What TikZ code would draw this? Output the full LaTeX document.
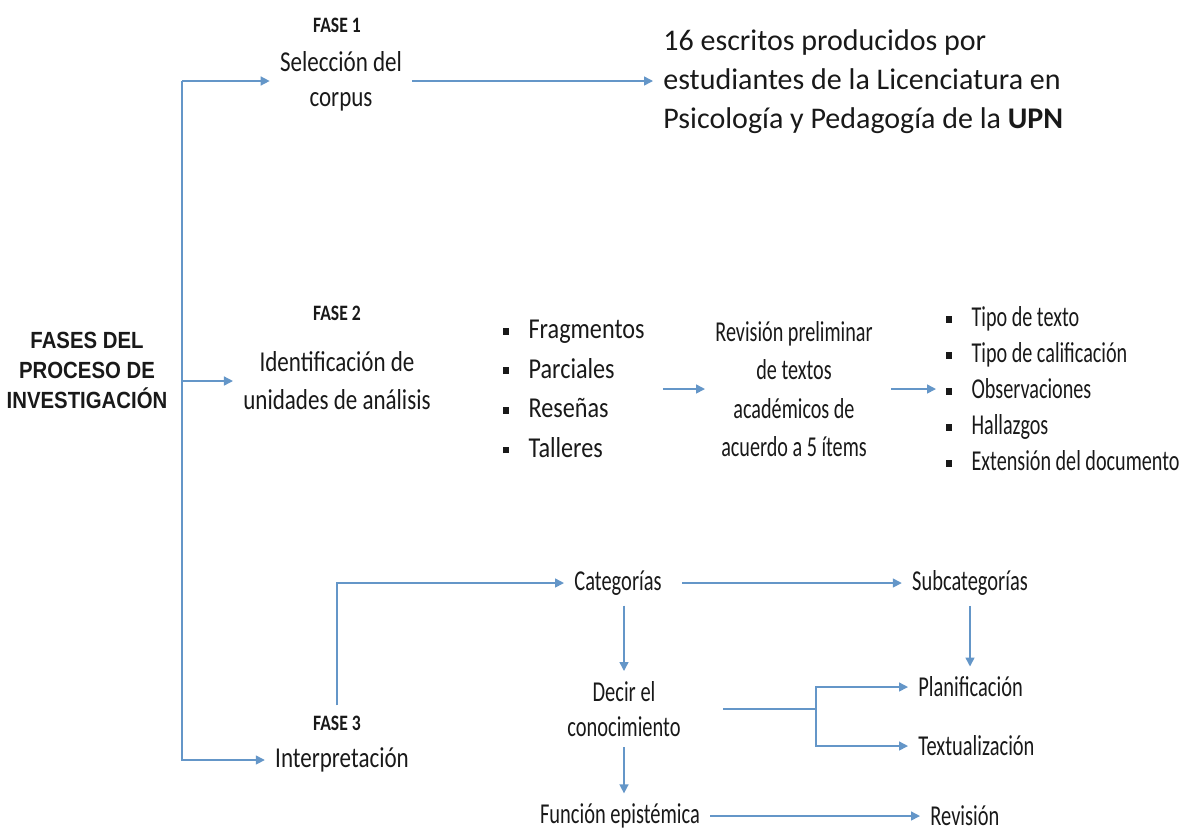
\documentclass[tikz,border=0pt]{standalone}
\usepackage{fontspec}
\setmainfont{Carlito}[FakeStretch=0.8]
\newfontfamily\titlefont{Liberation Sans}[FakeStretch=0.87]
\newfontfamily\widefont{Carlito}
\newfontfamily\midfont{Carlito}[FakeStretch=0.7]
\newfontfamily\listfont{Carlito}[FakeStretch=0.84]
\newfontfamily\lowfont{Carlito}[FakeStretch=0.71]
\usetikzlibrary{arrows.meta}
\definecolor{linkblue}{RGB}{100,150,200}
\definecolor{ink}{RGB}{25,25,25}
\newcommand{\sqi}{\rule[0.3ex]{2.6pt}{3.4pt}\hspace{10pt}}

\tikzset{
  txt/.style ={inner sep=5pt, text=ink, align=center, font=\fontsize{14.4}{17.5}\selectfont},
  low/.style ={txt, font=\fontsize{14.4}{17.5}\selectfont\lowfont},
  fase/.style={inner sep=5pt, text=ink, font=\fontsize{11}{13}\selectfont\bfseries},
  lst/.style ={txt, align=left},
  lnk/.style ={draw=linkblue, line width=0.75pt},
  arr/.style ={lnk, -{Triangle[length=4.5pt,width=4.5pt]}},
}

\begin{document}
\begin{tikzpicture}[x=0.5pt, y=-0.5pt]
  \useasboundingbox (0,0) rectangle (1188,832);
  \node[text=ink, align=center, font=\fontsize{11.7}{15}\selectfont\titlefont\bfseries] (title) at (87,370) {FASES DEL\\PROCESO DE\\INVESTIGACIÓN};
  % fase 1
  \node[fase] (f1) at (337,25) {FASE 1};
  \node[txt] (sel) at (341,81) {Selección del\\corpus};
  \node[lst, anchor=west, font=\fontsize{15}{19.5}\selectfont\widefont] (corpus) at (653,82) {16 escritos producidos por\\estudiantes de la Licenciatura en\\Psicología y Pedagogía de la \textbf{UPN}};
  % fase 2
  \node[fase] (f2) at (337,313) {FASE 2};
  \node[txt, font=\fontsize{14.4}{19}\selectfont] (ident) at (337,381) {Identificación de\\unidades de análisis};
  \node[lst, anchor=west, font=\fontsize{14.4}{19.8}\selectfont\listfont] (tipos) at (493,389) {\sqi Fragmentos\\\sqi Parciales\\\sqi Reseñas\\\sqi Talleres};
  \node[txt, font=\fontsize{14.4}{19.2}\selectfont\midfont] (prelim) at (794,389) {Revisión preliminar\\de textos\\académicos de\\acuerdo a 5 ítems};
  \node[lst, anchor=west, font=\fontsize{14.4}{18}\selectfont\midfont] (items) at (936,389) {\sqi Tipo de texto\\\sqi Tipo de calificación\\\sqi Observaciones\\\sqi Hallazgos\\\sqi Extensión del documento};
  % fase 3
  \node[fase] (f3) at (337,723) {FASE 3};
  \node[txt] (interp) at (342,760) {Interpretación};
  \node[low] (cat) at (618,583) {Categorías};
  \node[low] (sub) at (970,583) {Subcategorías};
  \node[low] (dec) at (624,709) {Decir el\\conocimiento};
  \node[low, anchor=west] (plan) at (908,687) {Planificación};
  \node[low, anchor=west] (textu) at (908,746) {Textualización};
  \node[low] (fun) at (620,816) {Función epistémica};
  \node[low, anchor=west] (revi) at (920,816) {Revisión};
  \coordinate (root) at (182,81);
  \coordinate (fork) at (816,709);

  \draw[arr] (root) -- (sel.west);
  \draw[arr] (root |- ident.west) -- (ident.west);
  \draw[arr] (root) |- (interp.west);
  \draw[arr] (sel.east) -- (sel.east -| corpus.west);
  \draw[arr, shorten <=4pt] (tipos.east) -- (prelim.west);
  \draw[arr, shorten <=4pt] (prelim.east) -- (items.west);
  \draw[arr] (f3.north) |- (cat.west);
  \draw[arr, shorten <=5pt] (cat.east) -- (sub.west);
  \draw[arr] (dec.north |- cat.south) -- (dec.north);
  \draw[arr] (dec.south) -- (dec.south |- fun.north);
  \draw[lnk, shorten <=16pt] (dec.east) -- (fork);
  \draw[arr] (fork) |- (plan.west);
  \draw[arr] (fork) |- (textu.west);
  \draw[arr] (sub.south) -- (sub.south |- plan.north);
  \draw[arr] (fun.east) -- (revi.west);
\end{tikzpicture}
\end{document}
